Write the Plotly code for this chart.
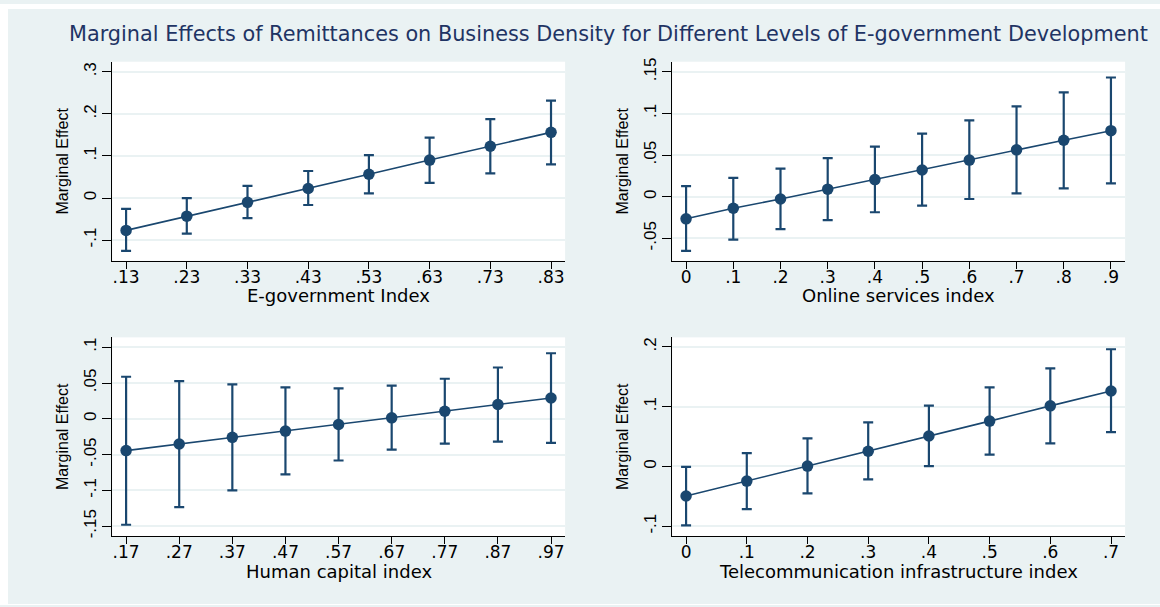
import plotly.graph_objects as go

NAVY = "#1A476F"
BG = "#EAF2F3"
FONT_H = "DejaVu Sans, Verdana, sans-serif"        # horizontal text
FONT_V = "Liberation Sans, Arial, sans-serif"     # rotated text

W, H = 1160, 607

# ---- E-government index panel ----
egov_x = [0.13, 0.23, 0.33, 0.43, 0.53, 0.63, 0.73, 0.83]
egov_me = [-0.0769, -0.0431, -0.0102, 0.0227, 0.0565, 0.0902, 0.1231, 0.1561]
egov_lo = [-0.1255, -0.0847, -0.0478, -0.0165, 0.0110, 0.0360, 0.0588, 0.0800]
egov_hi = [-0.0259, 0.0000, 0.0290, 0.0643, 0.1020, 0.1435, 0.1875, 0.2314]
egov_xticks = [".13", ".23", ".33", ".43", ".53", ".63", ".73", ".83"]
egov_yvals = [-0.1, 0, 0.1, 0.2, 0.3]
egov_yticks = ["-.1", "0", ".1", ".2", ".3"]

# ---- Online services index panel ----
osi_x = [0, 0.1, 0.2, 0.3, 0.4, 0.5, 0.6, 0.7, 0.8, 0.9]
osi_me = [-0.0266, -0.0139, -0.0028, 0.0091, 0.0206, 0.0321, 0.0440, 0.0563, 0.0679, 0.0794]
osi_lo = [-0.0651, -0.0516, -0.0389, -0.0282, -0.0187, -0.0107, -0.0028, 0.0040, 0.0099, 0.0159]
osi_hi = [0.0127, 0.0226, 0.0337, 0.0464, 0.0603, 0.0758, 0.0917, 0.1087, 0.1254, 0.1433]
osi_xticks = ["0", ".1", ".2", ".3", ".4", ".5", ".6", ".7", ".8", ".9"]
osi_yvals = [-0.05, 0, 0.05, 0.1, 0.15]
osi_yticks = ["-.05", "0", ".05", ".1", ".15"]

# ---- Human capital index panel ----
hci_x = [0.17, 0.27, 0.37, 0.47, 0.57, 0.67, 0.77, 0.87, 0.97]
hci_me = [-0.0444, -0.0351, -0.0259, -0.0171, -0.0079, 0.0014, 0.0106, 0.0199, 0.0291]
hci_lo = [-0.1479, -0.1234, -0.0998, -0.0776, -0.0582, -0.0430, -0.0347, -0.0319, -0.0337]
hci_hi = [0.0587, 0.0527, 0.0481, 0.0439, 0.0425, 0.0462, 0.0559, 0.0716, 0.0915]
hci_xticks = [".17", ".27", ".37", ".47", ".57", ".67", ".77", ".87", ".97"]
hci_yvals = [-0.15, -0.1, -0.05, 0, 0.05, 0.1]
hci_yticks = ["-.15", "-.1", "-.05", "0", ".05", ".1"]

# ---- Telecommunication infrastructure index panel ----
tii_x = [0, 0.1, 0.2, 0.3, 0.4, 0.5, 0.6, 0.7]
tii_me = [-0.0493, -0.0244, 0.0006, 0.0255, 0.0510, 0.0759, 0.1014, 0.1263]
tii_lo = [-0.0986, -0.0715, -0.0449, -0.0216, 0.0006, 0.0199, 0.0388, 0.0576]
tii_hi = [-0.0006, 0.0222, 0.0471, 0.0737, 0.1019, 0.1324, 0.1640, 0.1961]
tii_xticks = ["0", ".1", ".2", ".3", ".4", ".5", ".6", ".7"]
tii_yvals = [-0.1, 0, 0.1, 0.2]
tii_yticks = ["-.1", "0", ".1", ".2"]

title_text = ("Marginal Effects of Remittances on Business Density "
              "for Different Levels of E-government Development")

panels = [
    dict(x=egov_x, me=egov_me, lo=egov_lo, hi=egov_hi, xt=egov_xticks,
         yv=egov_yvals, yt=egov_yticks, xr=[0.1073, 0.8532], yr=[-0.149, 0.324],
         xtitle="E-government Index", px=(112.3, 565.1), py=(58.3, 259.3)),
    dict(x=osi_x, me=osi_me, lo=osi_lo, hi=osi_hi, xt=osi_xticks,
         yv=osi_yvals, yt=osi_yticks, xr=[-0.0292, 0.930], yr=[-0.077, 0.1623],
         xtitle="Online services index", px=(672.3, 1125.1), py=(58.3, 259.3)),
    dict(x=hci_x, me=hci_me, lo=hci_lo, hi=hci_hi, xt=hci_xticks,
         yv=hci_yvals, yt=hci_yticks, xr=[0.144, 0.9965], yr=[-0.1636, 0.1137],
         xtitle="Human capital index", px=(112.3, 565.1), py=(336.7, 537.3)),
    dict(x=tii_x, me=tii_me, lo=tii_lo, hi=tii_hi, xt=tii_xticks,
         yv=tii_yvals, yt=tii_yticks, xr=[-0.0227, 0.7232], yr=[-0.1163, 0.216],
         xtitle="Telecommunication infrastructure index", px=(672.3, 1125.1), py=(336.7, 537.3)),
]

fig = go.Figure()
annotations = []
layout_axes = {}

for i, p in enumerate(panels, start=1):
    xa = "x" if i == 1 else f"x{i}"
    ya = "y" if i == 1 else f"y{i}"
    plus = [h - m for h, m in zip(p["hi"], p["me"])]
    minus = [m - l for m, l in zip(p["me"], p["lo"])]
    fig.add_trace(go.Scatter(
        x=p["x"], y=p["me"], mode="lines+markers", xaxis=xa, yaxis=ya,
        line=dict(color=NAVY, width=1.6),
        marker=dict(color=NAVY, size=11.5),
        error_y=dict(type="data", symmetric=False, array=plus, arrayminus=minus,
                     color=NAVY, thickness=2.2, width=5),
        showlegend=False, hoverinfo="skip",
    ))
    x0, x1 = p["px"]
    y0, y1 = p["py"]
    xdom = [x0 / W, x1 / W]
    ydom = [1 - y1 / H, 1 - y0 / H]
    key = "" if i == 1 else str(i)
    layout_axes[f"xaxis{key}"] = dict(
        domain=xdom, anchor=ya, range=p["xr"], tickmode="array",
        tickvals=p["x"], ticktext=p["xt"], ticks="outside", ticklen=7,
        tickwidth=1, tickcolor="black", showline=True, linecolor="black",
        linewidth=1, showgrid=False, zeroline=False, ticklabelstandoff=-6,
        tickfont=dict(family=FONT_H, size=17, color="black"),
    )
    layout_axes[f"yaxis{key}"] = dict(
        domain=ydom, anchor=xa, range=p["yr"], tickmode="array",
        tickvals=p["yv"], ticktext=p["yt"], ticks="outside", ticklen=9,
        tickwidth=1, tickcolor="black", showline=True, linecolor="black",
        linewidth=1, showgrid=True, gridcolor=BG, gridwidth=1.5,
        zeroline=False, tickangle=-90,
        tickfont=dict(family=FONT_V, size=17, color="black"),
    )
    # axis titles
    annotations.append(dict(
        text=p["xtitle"], xref="paper", yref="paper",
        x=(x0 + x1) / 2 / W, y=1 - (y1 + 35.5) / H,
        xanchor="center", yanchor="middle", showarrow=False,
        font=dict(family=FONT_H, size=18, color="black"),
    ))
    annotations.append(dict(
        text="Marginal Effect", xref="paper", yref="paper",
        x=(x0 - 50) / W, y=1 - (y0 + y1) / 2 / H, textangle=-90,
        xanchor="center", yanchor="middle", showarrow=False,
        font=dict(family=FONT_V, size=16, color="black"),
    ))

annotations.append(dict(
    text=title_text, xref="paper", yref="paper",
    x=608 / W, y=1 - 30 / H, xanchor="center", yanchor="middle",
    showarrow=False, font=dict(family=FONT_H, size=20.8, color="#1F3464"),
))

# white page strips around the graph area
shapes = [
    dict(type="rect", xref="paper", yref="paper", x0=0, x1=1, y0=1 - 5 / H, y1=1,
         fillcolor="white", line=dict(width=0), layer="below"),
    dict(type="rect", xref="paper", yref="paper", x0=0, x1=8 / W, y0=0, y1=1,
         fillcolor="white", line=dict(width=0), layer="below"),
    dict(type="rect", xref="paper", yref="paper", x0=0, x1=1, y0=0, y1=1 / H,
         fillcolor="white", line=dict(width=0), layer="below"),
]

fig.update_layout(
    width=W, height=H, margin=dict(l=0, r=0, t=0, b=0),
    paper_bgcolor=BG, plot_bgcolor="white",
    annotations=annotations, shapes=shapes,
    font=dict(family=FONT_H),
    **layout_axes,
)

fig.write_html("out.html")
